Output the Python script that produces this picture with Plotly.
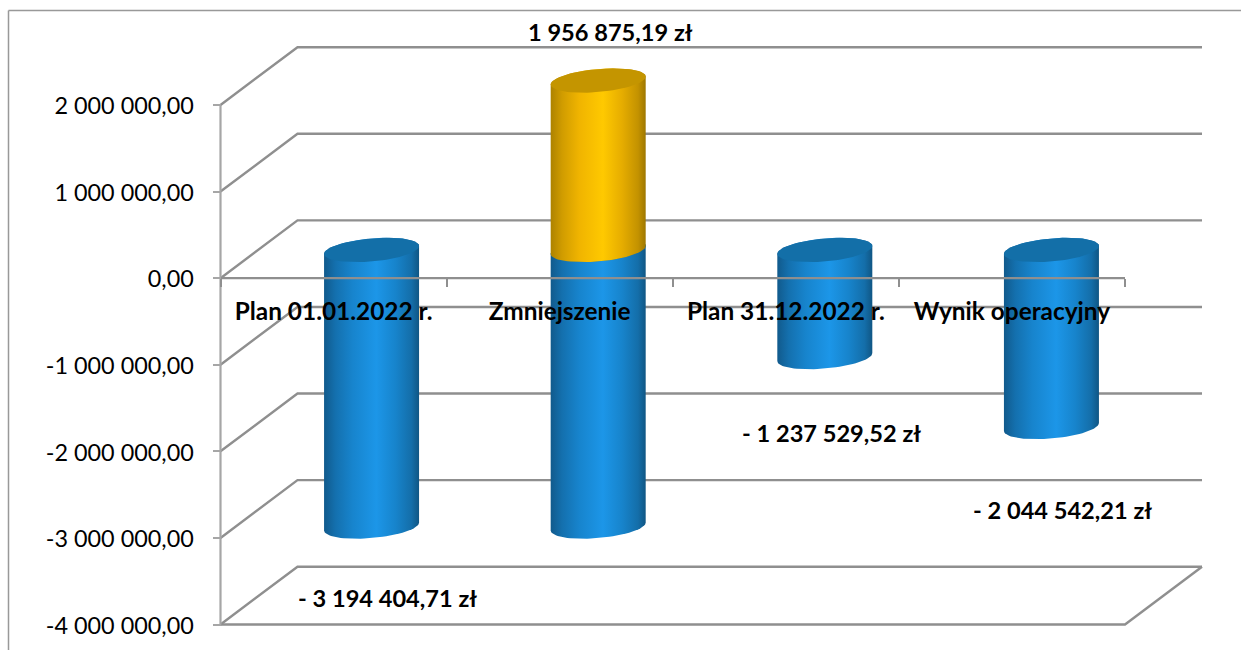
import math
import plotly.graph_objects as go

# ---------- data ----------
categories = ["Plan 01.01.2022 r.", "Zmniejszenie", "Plan 31.12.2022 r.", "Wynik operacyjny"]
blue_values = [-3194404.71, -3194404.71, -1237529.52, -2044542.21]
gold_values = [0.0, 1956875.19, 0.0, 0.0]
value_ticks = [2000000, 1000000, 0, -1000000, -2000000, -3000000, -4000000]
value_tick_labels = ["2 000 000,00", "1 000 000,00", "0,00", "-1 000 000,00",
                     "-2 000 000,00", "-3 000 000,00", "-4 000 000,00"]
value_labels = ["- 3 194 404,71 zł", "1 956 875,19 zł", "- 1 237 529,52 zł", "- 2 044 542,21 zł"]

# ---------- geometry (pixel scale of the axes, oblique projection) ----------
W, H = 1241, 650
L, R, T, B = 220.5, 1125, 105, 624.5     # where the 3D front frame sits
PL, PR, PT, PB = 214, 1208, 15, 630      # plot area in pixels
n_cat = len(categories)
v_max, v_min = max(value_ticks), min(value_ticks)
PX_X = (R - L) / n_cat
PX_Y = (B - T) / (v_max - v_min)
BACK_DX, BACK_DY = 77, 57.8
CYL_DX, CYL_DY = 38, 28.2
CYL_DRIFT = 0.5
ELL_A, ELL_B, ELL_S = 47.5, 11.5, 4
GRID = "#8f8f8f"
AXIS = "#a6a6a6"
FONT = "Lato"
BLUE = [[0, "#115a8c"], [0.12, "#1470ae"], [0.3, "#1784cd"], [0.55, "#1c96e8"],
        [0.75, "#1784cc"], [0.92, "#146ea9"], [1, "#105684"]]
GOLD = [[0, "#ad8200"], [0.12, "#d09c00"], [0.3, "#f0b400"], [0.55, "#ffc900"],
        [0.75, "#e6ad00"], [0.92, "#c39200"], [1, "#9e7700"]]
CAP_BLUE = "#136fa8"
CAP_GOLD = "#c49500"

x_lo = (PL - L) / PX_X
x_hi = (PR - L) / PX_X
y_hi = v_max + (T - PT) / PX_Y
y_lo = v_min - (PB - B) / PX_Y


def grid_trace(xs, ys, width=2.4, color=GRID):
    return go.Scatter(x=xs, y=ys, mode="lines", line=dict(color=color, width=width),
                      hoverinfo="skip", showlegend=False)


def ellipse(cx, cy_val, t0, t1, n=40):
    xs, ys = [], []
    for k in range(n + 1):
        t = t0 + (t1 - t0) * k / n
        dx_px = ELL_A * math.cos(t)
        dy_px = ELL_B * math.sin(t) - ELL_S * math.cos(t)
        xs.append(cx + dx_px / PX_X)
        ys.append(cy_val - dy_px / PX_Y)
    return xs, ys


def cylinder(i, v0, v1, colors, cap):
    cx = i + 0.5 + (CYL_DX + CYL_DRIFT * i) / PX_X
    shift = CYL_DY / PX_Y
    hi, lo = max(v0, v1) + shift, min(v0, v1) + shift
    x_top, y_top = ellipse(cx, hi, math.pi, 2 * math.pi)
    x_bot, y_bot = ellipse(cx, lo, 0, math.pi)
    body = go.Scatter(x=x_top + x_bot + x_top[:1], y=y_top + y_bot + y_top[:1],
                      mode="lines", line=dict(width=0), fill="toself",
                      fillgradient=dict(type="horizontal", colorscale=colors),
                      hoverinfo="skip", showlegend=False)
    x_c, y_c = ellipse(cx, hi, 0, 2 * math.pi, 80)
    top = go.Scatter(x=x_c, y=y_c, mode="lines", line=dict(width=0), fill="toself",
                     fillcolor=cap, hoverinfo="skip", showlegend=False)
    return [body, top]


fig = go.Figure()

# walls: diagonal on the side wall + horizontal on the back wall for each value tick
back_x = BACK_DX / PX_X
back_y = BACK_DY / PX_Y
x_end = n_cat + back_x
for v in value_ticks:
    fig.add_trace(grid_trace([0, back_x, x_end], [v, v + back_y, v + back_y]))
fig.add_trace(grid_trace([x_end, n_cat, 0], [v_min + back_y, v_min, v_min]))

# cylinders
for i in range(n_cat):
    for tr in cylinder(i, 0, blue_values[i], BLUE, CAP_BLUE):
        fig.add_trace(tr)
for i in range(n_cat):
    if gold_values[i]:
        for tr in cylinder(i, 0, gold_values[i], GOLD, CAP_GOLD):
            fig.add_trace(tr)

# front axis lines, drawn over the cylinders
fig.add_trace(grid_trace([0, 0], [v_min, v_max], width=2.2, color=AXIS))
fig.add_trace(grid_trace([0, n_cat], [0, 0], width=2.2, color=GRID))

# value labels
label_pos = [(387, 598), (610, 32), (831, 433), (1062, 510)]
for text, (px, py) in zip(value_labels, label_pos):
    fig.add_annotation(x=(px - L) / PX_X, y=v_max - (py - T) / PX_Y,
                       xref="x", yref="y", text=text, showarrow=False,
                       font=dict(family=FONT, size=23.6, color="#000000", weight="bold"))

fig.update_layout(
    width=W, height=H, autosize=False,
    margin=dict(l=PL, r=W - PR, t=PT, b=H - PB, pad=0),
    paper_bgcolor="white", plot_bgcolor="rgba(0,0,0,0)", showlegend=False,
    font=dict(family=FONT, color="#000000"),
    xaxis=dict(range=[x_lo, x_hi], anchor="free",
               position=(0 - y_lo) / (y_hi - y_lo),
               tickmode="array", tickvals=[i + 0.5 for i in range(n_cat)],
               ticktext=categories, ticks="", showgrid=False, zeroline=False,
               showline=False,
               tickfont=dict(family=FONT, size=24.4, color="#000000", weight="bold"),
               ticklabelstandoff=16,
               minor=dict(tickmode="array", tickvals=list(range(n_cat + 1)),
                          ticks="outside", ticklen=8, tickcolor=GRID, tickwidth=1.5,
                          showgrid=False)),
    yaxis=dict(range=[y_lo, y_hi], anchor="free",
               position=(0 - x_lo) / (x_hi - x_lo),
               tickmode="array",
               tickvals=value_ticks, ticktext=value_tick_labels, ticks="outside",
               ticklen=8, tickcolor=AXIS, tickwidth=1.5, showgrid=False, zeroline=False,
               showline=False, ticklabelstandoff=14, ticklabelshift=1,
               tickfont=dict(family=FONT, size=23.4, color="#000000")),
    shapes=[dict(type="line", xref="paper", yref="paper", layer="below",
                 x0=(8.5 - PL) / (PR - PL), x1=(8.5 - PL) / (PR - PL),
                 y0=(PB - 10.5) / (PB - PT), y1=(PB - 650) / (PB - PT),
                 line=dict(color="#999999", width=1.5)),
            dict(type="line", xref="paper", yref="paper", layer="below",
                 x0=(8.5 - PL) / (PR - PL), x1=(1241 - PL) / (PR - PL),
                 y0=(PB - 10.5) / (PB - PT), y1=(PB - 10.5) / (PB - PT),
                 line=dict(color="#999999", width=1.5))],
)

fig.write_html("out.html", config={"displayModeBar": False},
               post_script="document.body.style.margin='0';document.body.style.overflow='hidden';")
